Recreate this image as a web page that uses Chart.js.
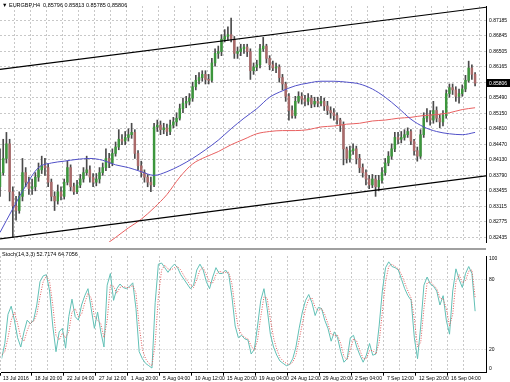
<!DOCTYPE html>
<html><head><meta charset="utf-8">
<script src="https://cdn.jsdelivr.net/npm/chart.js@4/dist/chart.umd.min.js"></script>
<style>
html,body{margin:0;padding:0;background:#fff;width:510px;height:382px;overflow:hidden}
#wrap{position:relative;width:510px;height:382px;font-family:"Liberation Sans",Arial,sans-serif}
#c1{position:absolute;left:0;top:0}
#c2{position:absolute;left:0;top:250px}
#sep{position:absolute;left:0;top:248px;width:486px;height:2px;background:#a0a0a0}
.lbl{position:absolute;font-size:5.5px;color:#000;white-space:pre;line-height:6px}
</style></head><body>
<div id="wrap">
<canvas id="c1" width="510" height="248"></canvas>
<div id="sep"></div>
<canvas id="c2" width="510" height="132"></canvas>
<div class="lbl" style="left:2px;top:2px">▼ EURGBP,H4  0.85796 0.85813 0.85785 0.85806</div>
<div class="lbl" style="left:2px;top:251px">Stoch(14,3,3) 52.7174 64.7056</div>
</div>
<script>
// ---- data (each candle = 2 H4 bars) ----
const timeLabels = ["13 Jul 2016","18 Jul 20:00","22 Jul 04:00","27 Jul 12:00","1 Aug 20:00","5 Aug 04:00","10 Aug 12:00","15 Aug 20:00","19 Aug 04:00","24 Aug 12:00","29 Aug 20:00","2 Sep 04:00","7 Sep 12:00","12 Sep 20:00","16 Sep 04:00"];
const priceTicks = [0.87185,0.86845,0.86505,0.86165,0.85825,0.8549,0.8515,0.8481,0.8447,0.8413,0.8379,0.83455,0.83115,0.82775,0.82435];
const hiddenPriceTick = 0.85825;

const opens = [0.8354,0.8385,0.8416,0.8448,0.8343,0.8312,0.8302,0.8333,0.8385,0.8364,
0.8350,0.8354,0.8375,0.8391,0.8400,0.8396,0.8364,0.8333,0.8323,0.8343,
0.8333,0.8364,0.8396,0.8354,0.8343,0.8358,0.8371,0.8385,0.8391,0.8375,
0.8364,0.8371,0.8385,0.8396,0.8416,0.8406,0.8427,0.8441,0.8458,0.8454,
0.8462,0.8468,0.8473,0.8427,0.8400,0.8385,0.8375,0.8364,0.8358,0.8485,
0.8489,0.8479,0.8483,0.8475,0.8489,0.8496,0.8504,0.8525,0.8537,0.8541,
0.8548,0.8573,0.8587,0.8593,0.8600,0.8589,0.8587,0.8625,0.8646,0.8650,
0.8677,0.8683,0.8687,0.8677,0.8646,0.8650,0.8656,0.8660,0.8650,0.8608,
0.8616,0.8621,0.8656,0.8662,0.8635,0.8621,0.8614,0.8616,0.8593,0.8579,
0.8552,0.8521,0.8510,0.8541,0.8552,0.8546,0.8541,0.8548,0.8535,0.8541,
0.8537,0.8541,0.8531,0.8521,0.8516,0.8510,0.8500,0.8489,0.8437,0.8416,
0.8433,0.8437,0.8416,0.8396,0.8385,0.8371,0.8358,0.8371,0.8354,0.8368,
0.8385,0.8406,0.8421,0.8437,0.8462,0.8458,0.8462,0.8468,0.8475,0.8454,
0.8433,0.8421,0.8468,0.8504,0.8510,0.8500,0.8521,0.8504,0.8496,0.8510,
0.8558,0.8571,0.8566,0.8552,0.8558,0.8568,0.8587,0.8614,0.8600];
const highs = [0.8437,0.8458,0.8473,0.8458,0.8354,0.8333,0.8343,0.8416,0.8396,0.8375,
0.8371,0.8385,0.8406,0.8421,0.8416,0.8404,0.8371,0.8343,0.8358,0.8354,
0.8371,0.8410,0.8402,0.8362,0.8368,0.8381,0.8396,0.8421,0.8400,0.8383,
0.8383,0.8396,0.8406,0.8437,0.8427,0.8437,0.8452,0.8479,0.8468,0.8475,
0.8481,0.8493,0.8479,0.8433,0.8410,0.8391,0.8381,0.8375,0.8493,0.8500,
0.8498,0.8493,0.8491,0.8500,0.8506,0.8516,0.8535,0.8548,0.8552,0.8558,
0.8583,0.8598,0.8604,0.8608,0.8608,0.8600,0.8635,0.8656,0.8662,0.8687,
0.8698,0.8704,0.8723,0.8683,0.8660,0.8666,0.8666,0.8666,0.8656,0.8625,
0.8631,0.8666,0.8681,0.8666,0.8641,0.8629,0.8625,0.8621,0.8600,0.8583,
0.8558,0.8531,0.8552,0.8562,0.8560,0.8554,0.8558,0.8554,0.8550,0.8550,
0.8552,0.8548,0.8541,0.8529,0.8525,0.8516,0.8504,0.8496,0.8441,0.8443,
0.8448,0.8443,0.8425,0.8404,0.8391,0.8379,0.8381,0.8379,0.8379,0.8396,
0.8416,0.8431,0.8448,0.8473,0.8473,0.8475,0.8479,0.8483,0.8479,0.8458,
0.8441,0.8479,0.8516,0.8525,0.8521,0.8541,0.8529,0.8512,0.8521,0.8566,
0.8579,0.8579,0.8573,0.8568,0.8577,0.8598,0.8629,0.8621,0.8604];
const lows = [0.8333,0.8379,0.8406,0.8323,0.8243,0.8281,0.8296,0.8323,0.8354,0.8337,
0.8337,0.8345,0.8366,0.8383,0.8379,0.8354,0.8323,0.8302,0.8316,0.8325,
0.8327,0.8358,0.8345,0.8337,0.8339,0.8352,0.8364,0.8379,0.8364,0.8354,
0.8356,0.8362,0.8379,0.8389,0.8396,0.8400,0.8421,0.8435,0.8446,0.8446,
0.8454,0.8460,0.8416,0.8391,0.8375,0.8364,0.8354,0.8343,0.8354,0.8475,
0.8468,0.8470,0.8466,0.8468,0.8483,0.8487,0.8500,0.8516,0.8527,0.8533,
0.8541,0.8566,0.8579,0.8585,0.8579,0.8579,0.8583,0.8618,0.8635,0.8641,
0.8671,0.8675,0.8671,0.8635,0.8635,0.8641,0.8646,0.8639,0.8589,0.8600,
0.8608,0.8614,0.8650,0.8625,0.8610,0.8608,0.8604,0.8583,0.8566,0.8541,
0.8500,0.8504,0.8504,0.8537,0.8535,0.8531,0.8533,0.8527,0.8529,0.8529,
0.8531,0.8521,0.8512,0.8504,0.8500,0.8491,0.8475,0.8402,0.8406,0.8408,
0.8425,0.8404,0.8385,0.8375,0.8358,0.8350,0.8352,0.8333,0.8345,0.8362,
0.8379,0.8400,0.8414,0.8431,0.8448,0.8450,0.8456,0.8462,0.8446,0.8423,
0.8410,0.8416,0.8462,0.8496,0.8489,0.8493,0.8496,0.8483,0.8487,0.8504,
0.8550,0.8556,0.8541,0.8537,0.8552,0.8562,0.8583,0.8589,0.8575];
const closes = [0.8385,0.8416,0.8448,0.8343,0.8312,0.8302,0.8333,0.8385,0.8364,0.8350,
0.8354,0.8375,0.8391,0.8400,0.8396,0.8364,0.8333,0.8323,0.8343,0.8333,
0.8364,0.8396,0.8354,0.8343,0.8358,0.8371,0.8385,0.8391,0.8375,0.8364,
0.8371,0.8385,0.8396,0.8416,0.8406,0.8427,0.8441,0.8458,0.8454,0.8462,
0.8468,0.8473,0.8427,0.8400,0.8385,0.8375,0.8364,0.8358,0.8485,0.8489,
0.8479,0.8483,0.8475,0.8489,0.8496,0.8504,0.8525,0.8537,0.8541,0.8548,
0.8573,0.8587,0.8593,0.8600,0.8589,0.8587,0.8625,0.8646,0.8650,0.8677,
0.8683,0.8687,0.8677,0.8646,0.8650,0.8656,0.8660,0.8650,0.8608,0.8616,
0.8621,0.8656,0.8662,0.8635,0.8621,0.8614,0.8616,0.8593,0.8579,0.8552,
0.8521,0.8510,0.8541,0.8552,0.8546,0.8541,0.8548,0.8535,0.8541,0.8537,
0.8541,0.8531,0.8521,0.8516,0.8510,0.8500,0.8489,0.8437,0.8416,0.8433,
0.8437,0.8416,0.8396,0.8385,0.8371,0.8358,0.8371,0.8354,0.8368,0.8385,
0.8406,0.8421,0.8437,0.8462,0.8458,0.8462,0.8468,0.8475,0.8454,0.8433,
0.8421,0.8468,0.8504,0.8510,0.8500,0.8521,0.8504,0.8496,0.8510,0.8558,
0.8571,0.8566,0.8552,0.8558,0.8568,0.8587,0.8614,0.8600,0.85806];

// moving averages, one value every 4 candles
const maBlue = [0.8254,0.8306,0.8356,0.8396,0.8406,0.8410,0.8414,0.8416,0.8412,0.8402,
0.8396,0.8387,0.8379,0.8387,0.8400,0.8416,0.8435,0.8456,0.8481,0.8504,
0.8525,0.8550,0.8564,0.8575,0.8581,0.8585,0.8585,0.8583,0.8579,0.8568,
0.8550,0.8527,0.8502,0.8485,0.8475,0.8470,0.8468,0.8473];
const maRed = [null,null,null,null,null,null,null,null,0.8223,0.8243,
0.8264,0.8283,0.8308,0.8337,0.8375,0.8404,0.8419,0.8431,0.8446,0.8458,
0.8470,0.8475,0.8477,0.8477,0.8479,0.8485,0.8487,0.8491,0.8493,0.8498,
0.8500,0.8504,0.8506,0.8510,0.8512,0.8516,0.8523,0.8527];

// channel trend lines (value at left edge, value at right edge)
const upperLine = [0.8611, 0.8747];
const lowerLine = [0.8240, 0.8378];

// stochastic (14,3,3)
const stochK = [12,25,50,57,45,30,22,35,45,42,
45,58,78,83,84,70,40,18,35,38,
21,48,63,48,45,58,66,72,55,38,
52,35,22,75,85,62,72,76,73,72,
74,77,55,18,12,8,6,4,60,93,
94,90,86,90,93,90,84,80,76,72,
75,88,93,88,78,72,82,90,85,85,
88,84,65,40,30,32,29,28,16,20,
40,62,72,55,33,22,15,10,8,6,
7,12,22,38,52,62,67,60,49,56,
55,45,38,27,35,30,18,9,12,30,
32,22,15,9,15,25,15,16,40,70,
90,95,91,90,88,80,72,66,62,30,
12,40,75,82,76,74,70,58,66,45,
33,70,89,80,73,85,91,85,52.72];
const stochD = [15,18,30,45,52,42,30,27,36,43,
44,50,65,78,83,78,58,32,28,34,
30,35,52,55,48,50,60,68,64,48,
45,42,30,45,75,74,68,73,74,73,
73,75,68,40,20,12,8,6,25,65,
88,92,89,88,90,91,88,83,79,75,
73,80,88,90,84,77,77,84,87,86,
86,86,76,55,38,33,30,29,23,19,
28,48,65,64,46,30,20,13,10,8,
7,9,15,28,42,55,63,64,56,53,
55,50,42,33,32,32,25,14,11,20,
29,27,19,12,12,19,19,16,26,52,
78,91,93,91,89,84,77,70,64,46,
22,26,55,77,78,75,72,64,63,55,
40,50,78,84,77,79,87,88,64.71];

// ---- layout / style ----
const X_MIN = 1, X_MAX = 303.8;       // in H4 bar units
const BARS_PER_CANDLE = 2, MA_STEP = 4;
const candleX = i => BARS_PER_CANDLE * i + 1;
const xTickVals = []; for (let v = 0; v <= 300; v += 10) xTickVals.push(v);
const FONT = '"Liberation Sans", Arial, sans-serif';
const GRID = '#c8c8c8';
const BULL = '#3c963c', BEAR = '#aa6a6a', WICK = '#4a4a4a';

const common = {
  responsive:false, animation:false, events:[],
  layout:{padding:0},
  plugins:{legend:{display:false}, tooltip:{enabled:false}, title:{display:false}}
};

const priceBox = {
  id:'priceBox',
  afterDraw(chart){
    const s = chart.scales.y, ctx = chart.ctx;
    const last = closes[closes.length-1];
    const y = s.getPixelForValue(last);
    ctx.save();
    ctx.fillStyle = '#000';
    ctx.fillRect(s.left+1, Math.round(y)-4, 23, 8);
    ctx.fillStyle = '#fff';
    ctx.font = '5px ' + FONT;
    ctx.textBaseline = 'middle';
    ctx.fillText(last.toFixed(5), s.left+3, y+0.5);
    ctx.restore();
  }
};

new Chart(document.getElementById('c1'), {
  type:'bar',
  data:{datasets:[
    {type:'line', data:[{x:X_MIN,y:upperLine[0]},{x:X_MAX,y:upperLine[1]}], borderColor:'#000', borderWidth:1.2, pointRadius:0, order:0},
    {type:'line', data:[{x:X_MIN,y:lowerLine[0]},{x:X_MAX,y:lowerLine[1]}], borderColor:'#000', borderWidth:1.2, pointRadius:0, order:0},
    {type:'line', data:maBlue.map((v,i)=>({x:candleX(i*MA_STEP), y:v})), borderColor:'#5050c8', borderWidth:1, pointRadius:0, cubicInterpolationMode:'monotone', order:1},
    {type:'line', data:maRed.map((v,i)=>({x:candleX(i*MA_STEP), y:v})), borderColor:'#e86060', borderWidth:1, pointRadius:0, cubicInterpolationMode:'monotone', spanGaps:false, order:1},
    {type:'bar', data:closes.map((c,i)=>({x:candleX(i), y:[opens[i], c]})), barThickness:1.8, minBarLength:1, grouped:false,
      backgroundColor: ctx => (closes[ctx.dataIndex] >= opens[ctx.dataIndex] ? BULL : BEAR), borderWidth:0, order:2},
    {type:'bar', data:closes.map((c,i)=>({x:candleX(i), y:[lows[i], highs[i]]})), barThickness:1, grouped:false,
      backgroundColor: WICK, borderWidth:0, order:3}
  ]},
  options:Object.assign({}, common, {
    scales:{
      x:{type:'linear', min:X_MIN, max:X_MAX, offset:false, position:'bottom',
        afterBuildTicks: s => { s.ticks = xTickVals.map(v=>({value:v})); },
        afterFit: s => { s.height = 0; },
        ticks:{display:false},
        grid:{offset:false, color:GRID, lineWidth:1, drawTicks:false},
        border:{display:false, dash:[2,2]}},
      y:{type:'linear', position:'right', min:0.82331, max:0.87497,
        afterBuildTicks: s => { s.ticks = priceTicks.map(v=>({value:v})); },
        afterFit: s => { s.width = 24; },
        ticks:{autoSkip:false, padding:3, color:'#000', font:{family:FONT, size:5},
          callback: v => (Math.abs(v-hiddenPriceTick) < 1e-9 ? '' : v.toFixed(5))},
        grid:{color:GRID, lineWidth:1, drawTicks:false},
        border:{display:true, color:'#000', width:1, dash:[2,2]}}
    }
  }),
  plugins:[priceBox]
});

const stochEdgeLabels = {
  id:'stochEdge',
  afterDraw(chart){
    const s = chart.scales.y, ctx = chart.ctx;
    ctx.save();
    ctx.fillStyle = '#000';
    ctx.font = '5px ' + FONT;
    ctx.textBaseline = 'middle';
    ctx.fillText('100', s.left+3, s.getPixelForValue(100)+3);
    ctx.fillText('0', s.left+3, s.getPixelForValue(0)-4.5);
    ctx.restore();
  }
};

new Chart(document.getElementById('c2'), {
  type:'line',
  data:{datasets:[
    {data:stochD.map((v,i)=>({x:candleX(i), y:v})), borderColor:'#e05c5c', borderWidth:1, borderDash:[1,1.5], pointRadius:0, order:0},
    {data:stochK.map((v,i)=>({x:candleX(i), y:v})), borderColor:'#62c0b6', borderWidth:1, pointRadius:0, order:1}
  ]},
  options:Object.assign({}, common, {
    scales:{
      x:{type:'linear', min:X_MIN, max:X_MAX, offset:false, position:'bottom',
        afterBuildTicks: s => { s.ticks = xTickVals.map(v=>({value:v})); },
        afterFit: s => { s.height = 9.3; },
        ticks:{autoSkip:false, maxRotation:0, minRotation:0, align:'start', labelOffset:3, padding:0, color:'#000',
          font:{family:FONT, size:5},
          callback: v => (v % 20 === 0 ? timeLabels[v/20] : '')},
        grid:{offset:false, color:GRID, lineWidth:1, drawTicks:true, tickLength:3,
          tickColor: ctx => (ctx.tick && ctx.tick.value % 20 === 0 ? '#000' : 'rgba(0,0,0,0)')},
        border:{display:true, color:'#000', width:1, dash:[2,2]}},
      y:{type:'linear', position:'right', min:0, max:100,
        afterBuildTicks: s => { s.ticks = [0,20,80,100].map(v=>({value:v})); },
        afterFit: s => { s.width = 24; },
        ticks:{autoSkip:false, padding:3, color:'#000', font:{family:FONT, size:5},
          callback: v => (v===20 || v===80 ? String(v) : '')},
        grid:{drawTicks:false, lineWidth:1,
          color: ctx => (ctx.tick && (ctx.tick.value===20 || ctx.tick.value===80) ? GRID : 'rgba(0,0,0,0)')},
        border:{display:true, color:'#000', width:1, dash:[1,2]}}
    }
  }),
  plugins:[stochEdgeLabels]
});
</script>
</body></html>
